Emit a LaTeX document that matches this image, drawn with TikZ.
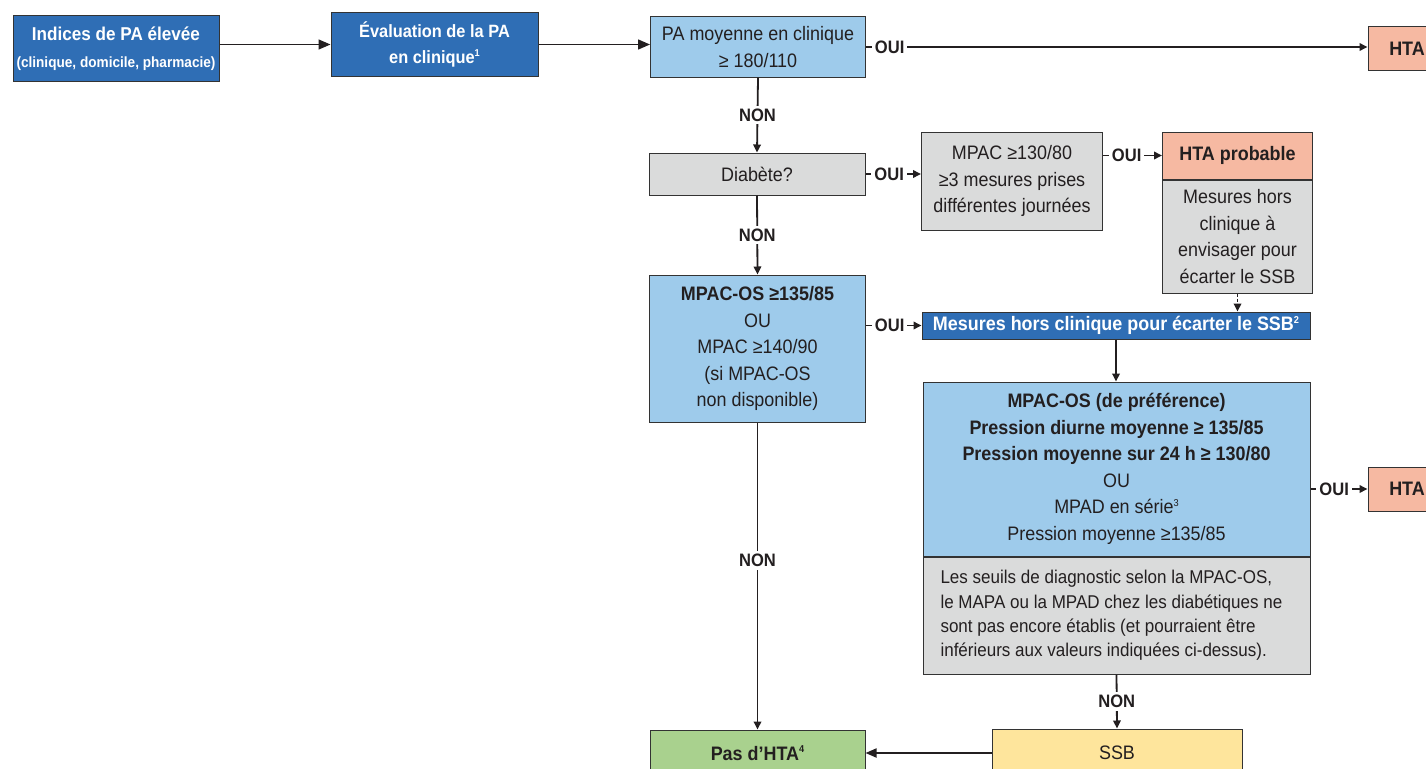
\documentclass[tikz,border=0pt]{standalone}
\usepackage{fontspec}
\setmainfont[FakeStretch=0.92]{Liberation Sans}
\usetikzlibrary{arrows.meta}
\definecolor{dblue}{HTML}{2F6EB5}
\definecolor{lblue}{HTML}{9ECBEB}
\definecolor{lgray}{HTML}{DADBDB}
\definecolor{salmon}{HTML}{F6B9A2}
\definecolor{lgreen}{HTML}{A9D18E}
\definecolor{lyellow}{HTML}{FEE59C}
\definecolor{txt}{HTML}{231F20}
\newcommand{\supnum}[1]{\raisebox{0.75ex}{\fontsize{10}{10}\selectfont #1}}
\begin{document}
\begin{tikzpicture}[x=1pt,y=-1pt,
  bx/.style={draw=black!80, line width=1pt, inner sep=0pt, align=center, text=txt,
    font=\fontsize{19.5}{26.5}\selectfont},
  sz/.style 2 args={minimum width=#1, minimum height=#2},
  arr/.style={line width=1.8pt, draw=txt, -{Triangle[length=8pt,width=7.5pt]}},
  bigarr/.style={line width=1.4pt, draw=txt, -{Triangle[length=12pt,width=10pt]}},
  lbl/.style={fill=white, inner xsep=3pt, inner ysep=1pt, text=txt,
    font=\bfseries\fontsize{18}{20}\selectfont},
  lblv/.style={fill=white, inner xsep=1pt, inner ysep=3pt, text=txt,
    font=\bfseries\fontsize{18}{20}\selectfont}]
\clip (0,0) rectangle (1426,768);
\useasboundingbox (0,0) rectangle (1426,768);
\fill[white] (0,0) rectangle (1426,768);

% top row
\node[bx, fill=dblue, text=white, sz={206}{65}] (b1) at (116,48.5)
  {\fontsize{18.6}{24}\selectfont\bfseries Indices de PA élevée\\
   \fontsize{14.8}{18}\selectfont\bfseries (clinique, domicile, pharmacie)};
\node[bx, fill=dblue, text=white, sz={207}{63}] (b2) at (434.5,44.5)
  {\fontsize{17.8}{26}\selectfont\bfseries Évaluation de la PA\\
   \fontsize{17.8}{26}\selectfont\bfseries en clinique\supnum{1}};
\node[bx, fill=lblue, sz={215}{60}] (b3) at (758,47)
  {PA moyenne en clinique\\≥ 180/110};
\node[bx, fill=salmon, sz={90}{43}] (hta1) at (1413,48.5)
  {\bfseries HTA\hspace*{12pt}};

% second level
\node[bx, fill=lgray, sz={216}{42}] (diab) at (757,174) {Diabète?};
\node[bx, fill=lgray, sz={181}{98}] (mpac) at (1012,181)
  {MPAC ≥130/80\\≥3 mesures prises\\différentes journées};
\node[bx, fill=salmon, sz={150}{47}] (htap) at (1237.5,155.5) {\bfseries HTA probable};
\node[bx, fill=lgray, sz={150}{113}, anchor=north] (htapd) at (htap.south)
  {Mesures hors\\clinique à\\envisager pour\\écarter le SSB};

% third level
\node[bx, fill=lblue, sz={216}{147}] (mpacos) at (757.5,348.5)
  {\bfseries MPAC-OS ≥135/85\\OU\\MPAC ≥140/90\\(si MPAC-OS\\non disponible)};
\node[bx, fill=dblue, text=white, sz={388}{27}] (mhc) at (1116,325.5)
  {\bfseries Mesures hors clinique pour écarter le SSB\supnum{2}};
\node[bx, fill=lblue, sz={387}{174}] (bigt) at (1116.5,469)
  {\bfseries MPAC-OS (de préférence)\\
   \bfseries Pression diurne moyenne ≥ 135/85\\
   \bfseries Pression moyenne sur 24 h ≥ 130/80\\
   OU\\MPAD en série\supnum{3}\\Pression moyenne ≥135/85};
\node[bx, fill=lgray, sz={387}{117}, anchor=north, text width=352pt, align=flush left,
  font=\fontsize{18.5}{24.4}\selectfont] (bigb) at (bigt.south)
  {Les seuils de diagnostic selon la MPAC-OS,\\
   le MAPA ou la MPAD chez les diabétiques ne\\
   sont pas encore établis (et pourraient être\\
   inférieurs aux valeurs indiquées ci-dessus).};
\node[bx, fill=salmon, sz={90}{44}] (hta2) at (1413,489)
  {\bfseries HTA\hspace*{12pt}};

% bottom
\node[bx, fill=lgreen, sz={215}{46}] (pas) at (757.5,753) {\bfseries Pas d’HTA\supnum{4}};
\node[bx, fill=lyellow, sz={250}{48}] (ssb) at (1117,753) {SSB};

% connectors
\draw[bigarr] (b2.west -| b1.east) -- (b2.west);
\draw[bigarr] (b2.east) -- (b2.east -| b3.west);
\draw[arr] (b3.east) -- node[lbl, pos=0, anchor=west, xshift=5pt] {OUI} (b3.east -| hta1.west);
\draw[arr] (b3.south) -- node[lblv] {NON} (diab.north);
\draw[arr] (diab.east) -- node[lbl, pos=0, anchor=west, xshift=5pt] {OUI} (diab.east -| mpac.west);
\draw[arr] (htap.west -| mpac.east) -- node[lbl, pos=0, anchor=west, xshift=5pt] {OUI} (htap.west);
\draw[arr, dash pattern=on 3pt off 2pt] (htapd.south) -- (htapd.south |- mhc.north);
\draw[arr] (diab.south) -- node[lblv] {NON} (mpacos.north);
\draw[arr] (mhc.west -| mpacos.east) -- node[lbl, pos=0, anchor=west, xshift=5pt] {OUI} (mhc.west);
\draw[arr] (mhc.south) -- (mhc.south |- bigt.north);
\draw[arr] (hta2.west -| bigt.east) -- node[lbl, pos=0, anchor=west, xshift=5pt] {OUI} (hta2.west);
\draw[arr] (mpacos.south) -- node[lblv, pos=0.45] {NON} (pas.north);
\draw[arr] (bigb.south) -- node[lblv] {NON} (ssb.north);
\draw[arr, -{Triangle[length=11pt,width=9pt]}] (ssb.west) -- (ssb.west -| pas.east);
\end{tikzpicture}
\end{document}
